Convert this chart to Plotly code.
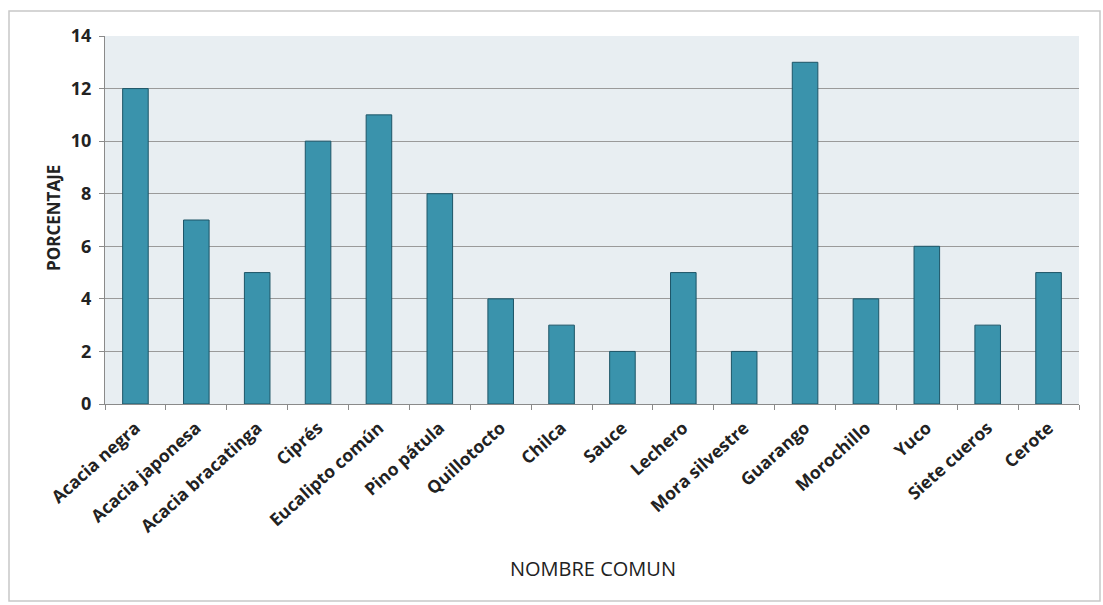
import plotly.graph_objects as go

categories = ["Acacia negra", "Acacia japonesa", "Acacia bracatinga", "Ciprés", "Eucalipto común",
              "Pino pátula", "Quillotocto", "Chilca", "Sauce", "Lechero", "Mora silvestre",
              "Guarango", "Morochillo", "Yuco", "Siete cueros", "Cerote"]
values = [12, 7, 5, 10, 11, 8, 4, 3, 2, 5, 2, 13, 4, 6, 3, 5]
y_ticks = [0, 2, 4, 6, 8, 10, 12, 14]

W, H = 1103, 605
L, R, T, B = 105, 24, 36, 201
pw, ph = W - L - R, H - T - B

def px_x(x):
    return (x - L) / pw

def px_y(y):
    return (H - B - y) / ph

fig = go.Figure(go.Bar(
    x=categories, y=values,
    marker=dict(color="#3a93ac", line=dict(color="#1d5567", width=1)),
    width=0.42,
))

fig.update_layout(
    width=W, height=H,
    margin=dict(l=L, r=R, t=T, b=B),
    paper_bgcolor="white",
    plot_bgcolor="#e8eef2",
    showlegend=False,
    font=dict(family="Open Sans", color="#222"),
    xaxis=dict(
        tickangle=-42,
        tickfont=dict(family="Open Sans", size=17.5, color="#222", weight="bold"),
        showline=True, linecolor="#8a8a8a", linewidth=1,
        ticks="outside", tickson="boundaries", ticklen=5, tickcolor="#8a8a8a",
        ticklabelstandoff=6,
        showgrid=False,
    ),
    yaxis=dict(
        range=[0, 14], tickvals=y_ticks,
        tickfont=dict(family="Open Sans", size=18, color="#222", weight="bold"),
        showline=True, linecolor="#8a8a8a", linewidth=1,
        ticks="outside", ticklen=5, tickcolor="#8a8a8a",
        ticklabelstandoff=4,
        showgrid=True, gridcolor="#9a9a9a", gridwidth=1,
        zeroline=False,
    ),
    annotations=[
        dict(text="NOMBRE COMUN", xref="paper", yref="paper",
             x=px_x(593), y=px_y(568), showarrow=False,
             xanchor="center", yanchor="middle",
             font=dict(family="Open Sans", size=20, color="#222")),
        dict(text="PORCENTAJE", xref="paper", yref="paper",
             x=px_x(53), y=px_y(218), showarrow=False, textangle=-90,
             xanchor="center", yanchor="middle",
             font=dict(family="Open Sans", size=17, color="#222", weight="bold")),
    ],
)

fig.add_shape(type="rect", xref="paper", yref="paper",
              x0=px_x(9), x1=px_x(1100),
              y0=px_y(601), y1=px_y(11),
              line=dict(color="#c8c8c8", width=1.5), fillcolor="rgba(0,0,0,0)", layer="below")

fig.write_html("out.html")
